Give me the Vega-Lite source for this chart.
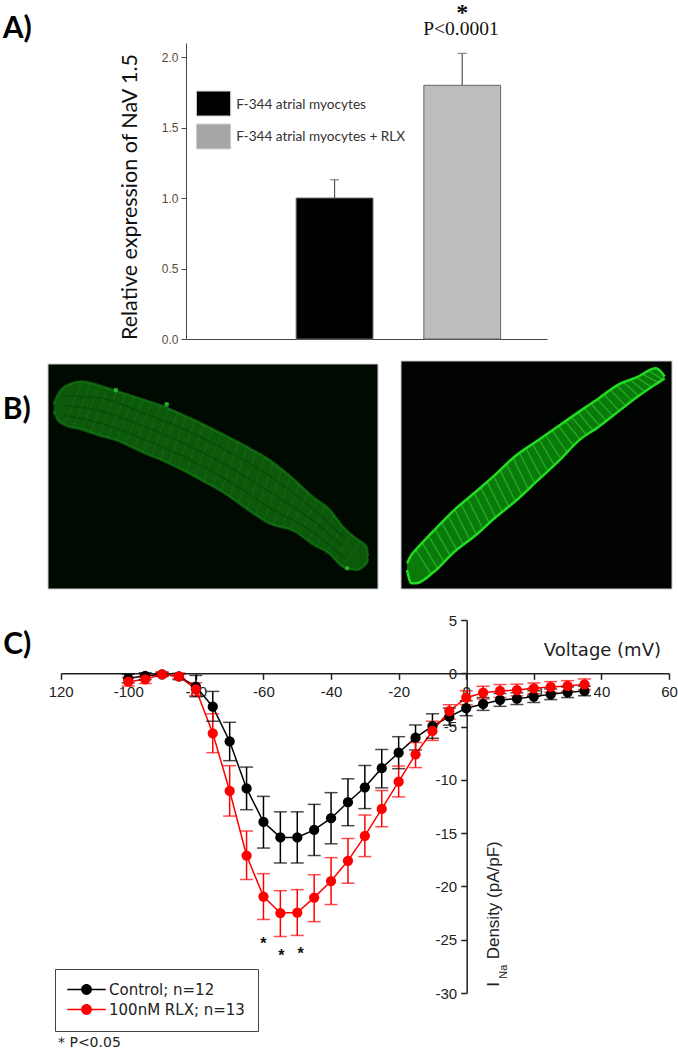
{
"$schema":"https://vega.github.io/schema/vega-lite/v6.json",
"padding":0,
"background":"white",
"spacing":0,
"resolve":{"scale":{"color":"independent","fill":"independent"},"legend":{"color":"independent","fill":"independent"}},
"config":{"view":{"stroke":null},"concat":{"spacing":0}},
"datasets":{
"bars":[
{"pos":1,"value":1.0,"upper":1.13,"name":"F-344 atrial myocytes"},
{"pos":2,"value":1.8,"upper":2.026,"name":"F-344 atrial myocytes + RLX"}],
"iv":[
{"v":-100,"i":-0.47,"lo":-0.9,"hi":-0.1,"group":"Control; n=12"},
{"v":-95,"i":-0.25,"lo":-0.6,"hi":0.05,"group":"Control; n=12"},
{"v":-90,"i":-0.1,"lo":-0.3,"hi":0.1,"group":"Control; n=12"},
{"v":-85,"i":-0.3,"lo":-0.6,"hi":0,"group":"Control; n=12"},
{"v":-80,"i":-1.25,"lo":-2.2,"hi":-0.2,"group":"Control; n=12"},
{"v":-75,"i":-3.13,"lo":-4.5,"hi":-1.7,"group":"Control; n=12"},
{"v":-70,"i":-6.4,"lo":-8.2,"hi":-4.6,"group":"Control; n=12"},
{"v":-65,"i":-10.8,"lo":-12.8,"hi":-8.8,"group":"Control; n=12"},
{"v":-60,"i":-13.95,"lo":-16.4,"hi":-11.55,"group":"Control; n=12"},
{"v":-55,"i":-15.4,"lo":-17.8,"hi":-13,"group":"Control; n=12"},
{"v":-50,"i":-15.4,"lo":-17.8,"hi":-13,"group":"Control; n=12"},
{"v":-45,"i":-14.7,"lo":-17.1,"hi":-12.3,"group":"Control; n=12"},
{"v":-40,"i":-13.6,"lo":-16,"hi":-11.2,"group":"Control; n=12"},
{"v":-35,"i":-12.1,"lo":-14.3,"hi":-9.9,"group":"Control; n=12"},
{"v":-30,"i":-10.7,"lo":-12.7,"hi":-8.65,"group":"Control; n=12"},
{"v":-25,"i":-8.9,"lo":-10.75,"hi":-7.15,"group":"Control; n=12"},
{"v":-20,"i":-7.45,"lo":-8.95,"hi":-5.95,"group":"Control; n=12"},
{"v":-15,"i":-6.04,"lo":-7.2,"hi":-4.85,"group":"Control; n=12"},
{"v":-10,"i":-4.95,"lo":-6.1,"hi":-3.8,"group":"Control; n=12"},
{"v":-5,"i":-4.07,"lo":-4.87,"hi":-3.27,"group":"Control; n=12"},
{"v":0,"i":-3.28,"lo":-3.98,"hi":-2.58,"group":"Control; n=12"},
{"v":5,"i":-2.88,"lo":-3.48,"hi":-2.28,"group":"Control; n=12"},
{"v":10,"i":-2.5,"lo":-3.1,"hi":-1.9,"group":"Control; n=12"},
{"v":15,"i":-2.38,"lo":-2.93,"hi":-1.83,"group":"Control; n=12"},
{"v":20,"i":-2.19,"lo":-2.74,"hi":-1.64,"group":"Control; n=12"},
{"v":25,"i":-1.97,"lo":-2.47,"hi":-1.47,"group":"Control; n=12"},
{"v":30,"i":-1.78,"lo":-2.28,"hi":-1.28,"group":"Control; n=12"},
{"v":35,"i":-1.66,"lo":-2.11,"hi":-1.21,"group":"Control; n=12"},
{"v":-100,"i":-0.79,"lo":-1.2,"hi":-0.4,"group":"100nM RLX; n=13"},
{"v":-95,"i":-0.56,"lo":-0.96,"hi":-0.16,"group":"100nM RLX; n=13"},
{"v":-90,"i":-0.1,"lo":-0.3,"hi":0.1,"group":"100nM RLX; n=13"},
{"v":-85,"i":-0.3,"lo":-0.5,"hi":-0.1,"group":"100nM RLX; n=13"},
{"v":-80,"i":-1.5,"lo":-2.1,"hi":-0.9,"group":"100nM RLX; n=13"},
{"v":-75,"i":-5.63,"lo":-7.45,"hi":-3.8,"group":"100nM RLX; n=13"},
{"v":-70,"i":-11.04,"lo":-13.4,"hi":-8.67,"group":"100nM RLX; n=13"},
{"v":-65,"i":-17.1,"lo":-19.35,"hi":-14.8,"group":"100nM RLX; n=13"},
{"v":-60,"i":-20.95,"lo":-23.1,"hi":-18.8,"group":"100nM RLX; n=13"},
{"v":-55,"i":-22.5,"lo":-24.7,"hi":-20.4,"group":"100nM RLX; n=13"},
{"v":-50,"i":-22.45,"lo":-24.6,"hi":-20.3,"group":"100nM RLX; n=13"},
{"v":-45,"i":-21.05,"lo":-23.3,"hi":-18.9,"group":"100nM RLX; n=13"},
{"v":-40,"i":-19.5,"lo":-21.7,"hi":-17.3,"group":"100nM RLX; n=13"},
{"v":-35,"i":-17.6,"lo":-19.7,"hi":-15.5,"group":"100nM RLX; n=13"},
{"v":-30,"i":-15.26,"lo":-17.2,"hi":-13.3,"group":"100nM RLX; n=13"},
{"v":-25,"i":-12.73,"lo":-14.4,"hi":-11,"group":"100nM RLX; n=13"},
{"v":-20,"i":-10.17,"lo":-11.6,"hi":-8.7,"group":"100nM RLX; n=13"},
{"v":-15,"i":-7.6,"lo":-8.85,"hi":-6.5,"group":"100nM RLX; n=13"},
{"v":-10,"i":-5.41,"lo":-6.3,"hi":-4.5,"group":"100nM RLX; n=13"},
{"v":-5,"i":-3.54,"lo":-4.3,"hi":-2.95,"group":"100nM RLX; n=13"},
{"v":0,"i":-2.29,"lo":-2.94,"hi":-1.64,"group":"100nM RLX; n=13"},
{"v":5,"i":-1.82,"lo":-2.42,"hi":-1.22,"group":"100nM RLX; n=13"},
{"v":10,"i":-1.66,"lo":-2.26,"hi":-1.06,"group":"100nM RLX; n=13"},
{"v":15,"i":-1.57,"lo":-2.12,"hi":-1.02,"group":"100nM RLX; n=13"},
{"v":20,"i":-1.41,"lo":-1.91,"hi":-0.91,"group":"100nM RLX; n=13"},
{"v":25,"i":-1.28,"lo":-1.78,"hi":-0.78,"group":"100nM RLX; n=13"},
{"v":30,"i":-1.19,"lo":-1.69,"hi":-0.69,"group":"100nM RLX; n=13"},
{"v":35,"i":-1.03,"lo":-1.53,"hi":-0.53,"group":"100nM RLX; n=13"}],
"leftCell":[
{"x":125,"top":165,"bottom":185},{"x":135,"top":135,"bottom":212},{"x":150,"top":112,"bottom":226},{"x":190,"top":96,"bottom":240},{"x":230,"top":108,"bottom":258},{"x":270,"top":125,"bottom":272},{"x":330,"top":150,"bottom":308},{"x":380,"top":172,"bottom":335},{"x":420,"top":195,"bottom":360},{"x":470,"top":225,"bottom":395},{"x":520,"top":258,"bottom":432},{"x":570,"top":292,"bottom":478},{"x":620,"top":330,"bottom":520},{"x":680,"top":392,"bottom":545},{"x":720,"top":440,"bottom":582},{"x":760,"top":480,"bottom":612},{"x":790,"top":530,"bottom":650},{"x":820,"top":565,"bottom":660},{"x":845,"top":592,"bottom":640},{"x":848,"top":620,"bottom":625}],
"leftStripes":[
{"x":190,"y":96,"x2":150,"y2":226},{"x":210,"y":102,"x2":170,"y2":233},{"x":230,"y":108,"x2":190,"y2":240},{"x":250,"y":116,"x2":210,"y2":249},{"x":270,"y":125,"x2":230,"y2":258},{"x":290,"y":133,"x2":250,"y2":265},{"x":310,"y":142,"x2":270,"y2":272},{"x":330,"y":150,"x2":290,"y2":284},{"x":350,"y":159,"x2":310,"y2":296},{"x":370,"y":168,"x2":330,"y2":308},{"x":390,"y":177,"x2":350,"y2":320},{"x":410,"y":189,"x2":370,"y2":330},{"x":430,"y":201,"x2":390,"y2":342},{"x":450,"y":213,"x2":410,"y2":354},{"x":470,"y":225,"x2":430,"y2":367},{"x":490,"y":238,"x2":450,"y2":381},{"x":510,"y":251,"x2":470,"y2":395},{"x":530,"y":265,"x2":490,"y2":410},{"x":550,"y":278,"x2":510,"y2":425},{"x":570,"y":292,"x2":530,"y2":440},{"x":590,"y":307,"x2":550,"y2":459},{"x":610,"y":322,"x2":570,"y2":478},{"x":630,"y":340,"x2":590,"y2":494},{"x":650,"y":360,"x2":610,"y2":510},{"x":670,"y":382,"x2":630,"y2":525},{"x":690,"y":403,"x2":650,"y2":535},{"x":710,"y":428,"x2":670,"y2":540},{"x":730,"y":450,"x2":690,"y2":555},{"x":750,"y":470,"x2":710,"y2":575},{"x":770,"y":497,"x2":730,"y2":590},{"x":790,"y":530,"x2":750,"y2":612},{"x":810,"y":553,"x2":770,"y2":630},{"x":830,"y":575,"x2":790,"y2":650}],
"leftFibres":[
{"x":150,"y":140,"fibre":"a"},{"x":230,"y":145,"fibre":"a"},{"x":330,"y":190,"fibre":"a"},{"x":420,"y":236,"fibre":"a"},{"x":520,"y":301,"fibre":"a"},{"x":620,"y":377,"fibre":"a"},{"x":720,"y":475,"fibre":"a"},{"x":790,"y":560,"fibre":"a"},
{"x":150,"y":169,"fibre":"b"},{"x":230,"y":183,"fibre":"b"},{"x":330,"y":229,"fibre":"b"},{"x":420,"y":278,"fibre":"b"},{"x":520,"y":345,"fibre":"b"},{"x":620,"y":425,"fibre":"b"},{"x":720,"y":511,"fibre":"b"},{"x":790,"y":590,"fibre":"b"},
{"x":150,"y":198,"fibre":"c"},{"x":230,"y":220,"fibre":"c"},{"x":330,"y":268,"fibre":"c"},{"x":420,"y":319,"fibre":"c"},{"x":520,"y":388,"fibre":"c"},{"x":620,"y":472,"fibre":"c"},{"x":720,"y":546,"fibre":"c"},{"x":790,"y":620,"fibre":"c"}],
"rightCell":[
{"x":940,"top":640,"bottom":660},{"x":950,"top":615,"bottom":700},{"x":960,"top":600,"bottom":700},{"x":1000,"top":545,"bottom":668},{"x":1050,"top":480,"bottom":605},{"x":1100,"top":425,"bottom":555},{"x":1140,"top":380,"bottom":508},{"x":1190,"top":320,"bottom":455},{"x":1240,"top":275,"bottom":395},{"x":1290,"top":230,"bottom":335},{"x":1340,"top":185,"bottom":270},{"x":1380,"top":150,"bottom":235},{"x":1430,"top":105,"bottom":185},{"x":1470,"top":85,"bottom":145},{"x":1515,"top":58,"bottom":105},{"x":1535,"top":82,"bottom":88}],
"rightStripes":[
{"x":960,"y":600,"x2":995,"y2":672},{"x":975,"y":579,"x2":1010,"y2":655},{"x":990,"y":559,"x2":1025,"y2":636},{"x":1005,"y":538,"x2":1040,"y2":618},{"x":1020,"y":519,"x2":1055,"y2":600},{"x":1035,"y":499,"x2":1070,"y2":585},{"x":1050,"y":480,"x2":1085,"y2":570},{"x":1065,"y":463,"x2":1100,"y2":555},{"x":1080,"y":447,"x2":1115,"y2":537},{"x":1095,"y":430,"x2":1130,"y2":520},{"x":1110,"y":414,"x2":1145,"y2":503},{"x":1125,"y":397,"x2":1160,"y2":487},{"x":1140,"y":380,"x2":1175,"y2":471},{"x":1155,"y":362,"x2":1190,"y2":455},{"x":1170,"y":344,"x2":1205,"y2":437},{"x":1185,"y":326,"x2":1220,"y2":419},{"x":1200,"y":311,"x2":1235,"y2":401},{"x":1215,"y":298,"x2":1250,"y2":383},{"x":1230,"y":284,"x2":1265,"y2":365},{"x":1245,"y":270,"x2":1280,"y2":347},{"x":1260,"y":257,"x2":1295,"y2":328},{"x":1275,"y":243,"x2":1310,"y2":309},{"x":1290,"y":230,"x2":1325,"y2":290},{"x":1305,"y":216,"x2":1340,"y2":270},{"x":1320,"y":203,"x2":1355,"y2":257},{"x":1335,"y":189,"x2":1370,"y2":244},{"x":1350,"y":177,"x2":1385,"y2":230},{"x":1365,"y":163,"x2":1400,"y2":215},{"x":1380,"y":150,"x2":1415,"y2":200},{"x":1395,"y":136,"x2":1430,"y2":185},{"x":1410,"y":123,"x2":1445,"y2":170},{"x":1425,"y":110,"x2":1460,"y2":155},{"x":1440,"y":100,"x2":1475,"y2":140},{"x":1455,"y":92,"x2":1490,"y2":128},{"x":1470,"y":85,"x2":1505,"y2":114},{"x":1485,"y":76,"x2":1520,"y2":100},{"x":1500,"y":67,"x2":1530,"y2":90}]
},
"vconcat":[
{
"width":678,"height":350,
"layer":[
{"data":{"name":"bars"},"mark":{"type":"bar","orient":"vertical","size":76.8,"stroke":"#666666","strokeWidth":1},
"encoding":{
"x":{"field":"pos","type":"quantitative","scale":{"domain":[-0.1637,2.664],"range":[186,547],"nice":false,"zero":false,"padding":0},"axis":{"title":null,"ticks":false,"labels":false,"grid":false,"domainColor":"#444444","offset":-11,"orient":"bottom"}},
"y":{"field":"value","type":"quantitative","scale":{"domain":[0,2.1],"range":[339,43],"nice":false},"axis":{"title":null,"grid":false,"values":[0,0.5,1,1.5,2],"format":".1f","offset":-186,"orient":"left","domainColor":"#444444","tickColor":"#444444","tickSize":5,"labelColor":"#5a4a3a","labelFont":"Liberation Sans","labelFontSize":12,"labelPadding":3}},
"y2":{"datum":0},
"fill":{"field":"name","type":"nominal","legend":null,"scale":{"domain":["F-344 atrial myocytes","F-344 atrial myocytes + RLX"],"range":["#000000","#bdbdbd"]}}}},
{"data":{"name":"bars"},"mark":{"type":"rule","color":"#555555","strokeWidth":1.2},
"encoding":{"x":{"field":"pos","type":"quantitative"},"y":{"field":"value","type":"quantitative"},"y2":{"field":"upper"}}},
{"data":{"name":"bars"},"mark":{"type":"tick","orient":"horizontal","size":9,"thickness":1.2,"color":"#555555"},
"encoding":{"x":{"field":"pos","type":"quantitative"},"y":{"field":"upper","type":"quantitative"}}},
{"data":{"values":[{"x":-0.082,"x2":0.186,"y":1.759,"y2":1.582,"name":"F-344 atrial myocytes"},{"x":-0.082,"x2":0.186,"y":1.525,"y2":1.348,"name":"F-344 atrial myocytes + RLX"}]},
"mark":{"type":"rect","stroke":"#d0d0d0","strokeWidth":1},
"encoding":{"x":{"field":"x","type":"quantitative"},"x2":{"field":"x2"},"y":{"field":"y","type":"quantitative"},"y2":{"field":"y2"},
"color":{"field":"name","type":"nominal","legend":null,"scale":{"domain":["F-344 atrial myocytes","F-344 atrial myocytes + RLX"],"range":["#000000","#a6a6a6"]}}}},
{"data":{"values":[{"x":0.229,"y":1.66,"t":"F-344 atrial myocytes"},{"x":0.229,"y":1.433,"t":"F-344 atrial myocytes + RLX"}]},
"mark":{"type":"text","align":"left","baseline":"middle","font":"Lato","fontSize":13.6,"color":"#333333"},
"encoding":{"x":{"field":"x","type":"quantitative"},"y":{"field":"y","type":"quantitative"},"text":{"field":"t"}}},
{"data":{"values":[{"x":-0.597,"y":1.007,"t":"Relative expression of NaV 1.5"}]},
"mark":{"type":"text","angle":270,"align":"center","baseline":"middle","font":"Lato","fontSize":21.5,"color":"#111111"},
"encoding":{"x":{"field":"x","type":"quantitative"},"y":{"field":"y","type":"quantitative"},"text":{"field":"t"}}},
{"data":{"values":[{"x":1.99,"y":2.2,"t":"P<0.0001"}]},
"mark":{"type":"text","align":"center","baseline":"middle","font":"Liberation Serif","fontSize":19.5,"color":"#111111"},
"encoding":{"x":{"field":"x","type":"quantitative"},"y":{"field":"y","type":"quantitative"},"text":{"field":"t"}}},
{"data":{"values":[{"x":2.0,"y":2.4,"t":"*"}]},
"mark":{"type":"text","align":"center","baseline":"top","font":"Liberation Serif","fontWeight":"bold","fontSize":24,"color":"#111111"},
"encoding":{"x":{"field":"x","type":"quantitative"},"y":{"field":"y","type":"quantitative"},"text":{"field":"t"}}},
{"data":{"values":[{"x":-1.6,"y":2.2,"t":"A)"}]},
"mark":{"type":"text","align":"left","baseline":"middle","font":"Lato","fontWeight":"bold","fontSize":30,"color":"#000000"},
"encoding":{"x":{"field":"x","type":"quantitative"},"y":{"field":"y","type":"quantitative"},"text":{"field":"t"}}}
]
},
{
"spacing":0,
"hconcat":[
{
"width":385,"height":250,
"layer":[
{"data":{"values":[{"x":112,"x2":871,"y":44,"y2":717}]},"mark":{"type":"rect","color":"#000a00","stroke":"#c8c8c8","strokeWidth":1},
"encoding":{"x":{"field":"x","type":"quantitative","axis":null,"scale":{"domain":[112,871],"range":[48,378],"nice":false,"zero":false}},"x2":{"field":"x2"},"y":{"field":"y","type":"quantitative","axis":null,"scale":{"domain":[44,717],"range":[14,239],"nice":false,"zero":false}},"y2":{"field":"y2"}}},
{"data":{"name":"leftCell"},"mark":{"type":"area","color":"#0c590c","interpolate":"monotone"},
"encoding":{"x":{"field":"x","type":"quantitative"},"y":{"field":"top","type":"quantitative"},"y2":{"field":"bottom"}}},
{"data":{"name":"leftStripes"},"mark":{"type":"rule","color":"#157815","strokeWidth":1,"opacity":0.6},
"encoding":{"x":{"field":"x","type":"quantitative"},"x2":{"field":"x2"},"y":{"field":"y","type":"quantitative"},"y2":{"field":"y2"}}},
{"data":{"name":"leftFibres"},"mark":{"type":"line","color":"#084508","strokeWidth":1.5,"opacity":0.7,"interpolate":"monotone"},
"encoding":{"x":{"field":"x","type":"quantitative"},"y":{"field":"y","type":"quantitative"},"detail":{"field":"fibre"}}},
{"data":{"name":"leftCell"},"mark":{"type":"line","color":"#188018","strokeWidth":2.5,"opacity":0.6,"interpolate":"monotone"},
"encoding":{"x":{"field":"x","type":"quantitative"},"y":{"field":"top","type":"quantitative"}}},
{"data":{"name":"leftCell"},"mark":{"type":"line","color":"#188018","strokeWidth":2.5,"opacity":0.6,"interpolate":"monotone"},
"encoding":{"x":{"field":"x","type":"quantitative"},"y":{"field":"bottom","type":"quantitative"}}},
{"data":{"values":[{"x":268,"y":122},{"x":385,"y":165},{"x":800,"y":655}]},"mark":{"type":"point","filled":true,"color":"#2cb82c","size":22,"opacity":0.9},
"encoding":{"x":{"field":"x","type":"quantitative"},"y":{"field":"y","type":"quantitative"}}},
{"data":{"values":[{"x":8,"y":181,"t":"B)"}]},
"mark":{"type":"text","align":"left","baseline":"middle","font":"Lato","fontWeight":"bold","fontSize":30,"color":"#000000"},
"encoding":{"x":{"field":"x","type":"quantitative"},"y":{"field":"y","type":"quantitative"},"text":{"field":"t"}}}
]
},
{
"width":293,"height":250,
"layer":[
{"data":{"values":[{"x":926,"x2":1552,"y":36,"y2":717}]},"mark":{"type":"rect","color":"#000300","stroke":"#c8c8c8","strokeWidth":1},
"encoding":{"x":{"field":"x","type":"quantitative","axis":null,"scale":{"domain":[926,1552],"range":[16,287],"nice":false,"zero":false}},"x2":{"field":"x2"},"y":{"field":"y","type":"quantitative","axis":null,"scale":{"domain":[36,717],"range":[11,239],"nice":false,"zero":false}},"y2":{"field":"y2"}}},
{"data":{"name":"rightCell"},"mark":{"type":"area","color":"#0a7a0a","interpolate":"monotone"},
"encoding":{"x":{"field":"x","type":"quantitative"},"y":{"field":"top","type":"quantitative"},"y2":{"field":"bottom"}}},
{"data":{"name":"rightStripes"},"mark":{"type":"rule","color":"#1fb01f","strokeWidth":1.3},
"encoding":{"x":{"field":"x","type":"quantitative"},"x2":{"field":"x2"},"y":{"field":"y","type":"quantitative"},"y2":{"field":"y2"}}},
{"data":{"name":"rightCell"},"mark":{"type":"line","color":"#22dc22","strokeWidth":2.5,"interpolate":"monotone"},
"encoding":{"x":{"field":"x","type":"quantitative"},"y":{"field":"top","type":"quantitative"}}},
{"data":{"name":"rightCell"},"mark":{"type":"line","color":"#22dc22","strokeWidth":2.5,"interpolate":"monotone"},
"encoding":{"x":{"field":"x","type":"quantitative"},"y":{"field":"bottom","type":"quantitative"}}}
]
}
]
},
{
"width":678,"height":450,
"layer":[
{"data":{"name":"iv"},"mark":{"type":"line","strokeWidth":1.5},
"encoding":{
"x":{"field":"v","type":"quantitative","scale":{"domain":[-120,60],"range":[60.7,669],"nice":false,"zero":false},"axis":{"title":null,"grid":false,"orient":"bottom","offset":-376.7,"values":[-120,-100,-80,-60,-40,-20,0,20,40,60],"labelExpr":"datum.value==-120?'120':''+datum.value","labelFont":"Liberation Sans","labelFontSize":15,"labelColor":"#222222","labelPadding":5,"tickColor":"#222222","domainColor":"#222222","domainWidth":1.5,"tickWidth":1.5,"tickSize":6,"labelFlush":false,"labelOverlap":false}},
"y":{"field":"i","type":"quantitative","scale":{"domain":[-30,5],"range":[393,20],"nice":false,"zero":false},"axis":{"title":null,"grid":false,"orient":"left","offset":-466.7,"values":[-30,-25,-20,-15,-10,-5,0,5],"labelExpr":"''+datum.value","labelFont":"Liberation Sans","labelFontSize":15,"labelColor":"#222222","labelPadding":4,"tickColor":"#222222","domainColor":"#222222","domainWidth":1.5,"tickWidth":1.5,"tickSize":6,"labelOverlap":false}},
"color":{"field":"group","type":"nominal","scale":{"domain":["Control; n=12","100nM RLX; n=13"],"range":["#000000","#ff0000"]},"legend":{"title":null,"orient":"none","legendX":55,"legendY":369,"padding":13,"strokeColor":"#444444","fillColor":"white","symbolType":"M-3.2,-0.12H3.2V0.12H-3.2Z M0.9,0A0.9,0.9 0 1,1 -0.9,0A0.9,0.9 0 1,1 0.9,0Z","symbolSize":144,"symbolOffset":11,"symbolStrokeWidth":0,"labelFont":"DejaVu Sans","labelFontSize":15,"labelColor":"#222222","labelOffset":15,"rowPadding":4,"labelLimit":220,"encode":{"symbols":{"update":{"opacity":{"value":1}}}}}}}},
{"data":{"name":"iv"},"mark":{"type":"rule","strokeWidth":1.5},
"encoding":{"x":{"field":"v","type":"quantitative"},"y":{"field":"lo","type":"quantitative"},"y2":{"field":"hi"},"color":{"field":"group","type":"nominal"}}},
{"data":{"name":"iv"},"mark":{"type":"tick","orient":"horizontal","size":13,"thickness":1.5},
"encoding":{"x":{"field":"v","type":"quantitative"},"y":{"field":"lo","type":"quantitative"},"color":{"field":"group","type":"nominal"}}},
{"data":{"name":"iv"},"mark":{"type":"tick","orient":"horizontal","size":13,"thickness":1.5},
"encoding":{"x":{"field":"v","type":"quantitative"},"y":{"field":"hi","type":"quantitative"},"color":{"field":"group","type":"nominal"}}},
{"data":{"name":"iv"},"mark":{"type":"point","filled":true,"size":105,"opacity":1},
"encoding":{"x":{"field":"v","type":"quantitative"},"y":{"field":"i","type":"quantitative"},
"color":{"field":"group","type":"nominal"}}},
{"data":{"values":[{"v":40.3,"i":2.1,"t":"Voltage (mV)"}]},
"mark":{"type":"text","align":"center","baseline":"middle","font":"DejaVu Sans","fontSize":18,"color":"#222222"},
"encoding":{"x":{"field":"v","type":"quantitative"},"y":{"field":"i","type":"quantitative"},"text":{"field":"t"}}},
{"data":{"values":[{"v":8.08,"i":-21.3,"t":"Density (pA/pF)"},{"v":8.08,"i":-29.2,"t":"I"}]},
"mark":{"type":"text","angle":270,"align":"center","baseline":"middle","font":"Liberation Sans","fontSize":17,"color":"#222222"},
"encoding":{"x":{"field":"v","type":"quantitative"},"y":{"field":"i","type":"quantitative"},"text":{"field":"t"}}},
{"data":{"values":[{"v":11.3,"i":-28.0,"t":"Na"}]},
"mark":{"type":"text","angle":270,"align":"center","baseline":"middle","font":"Liberation Sans","fontSize":11,"color":"#222222"},
"encoding":{"x":{"field":"v","type":"quantitative"},"y":{"field":"i","type":"quantitative"},"text":{"field":"t"}}},
{"data":{"values":[{"v":-60,"i":-25.4,"t":"*"},{"v":-54.7,"i":-26.5,"t":"*"},{"v":-49,"i":-26.3,"t":"*"}]},
"mark":{"type":"text","align":"center","baseline":"middle","font":"Liberation Sans","fontWeight":"bold","fontSize":16,"color":"#111111"},
"encoding":{"x":{"field":"v","type":"quantitative"},"y":{"field":"i","type":"quantitative"},"text":{"field":"t"}}},
{"data":{"values":[{"v":-120.8,"i":-34.68,"t":"* P<0.05"}]},
"mark":{"type":"text","align":"left","baseline":"middle","font":"DejaVu Sans","fontSize":14,"color":"#222222"},
"encoding":{"x":{"field":"v","type":"quantitative"},"y":{"field":"i","type":"quantitative"},"text":{"field":"t"}}},
{"data":{"values":[{"v":-137,"i":2.65,"t":"C)"}]},
"mark":{"type":"text","align":"left","baseline":"middle","font":"Lato","fontWeight":"bold","fontSize":30,"color":"#000000"},
"encoding":{"x":{"field":"v","type":"quantitative"},"y":{"field":"i","type":"quantitative"},"text":{"field":"t"}}}
]
}
]
}
